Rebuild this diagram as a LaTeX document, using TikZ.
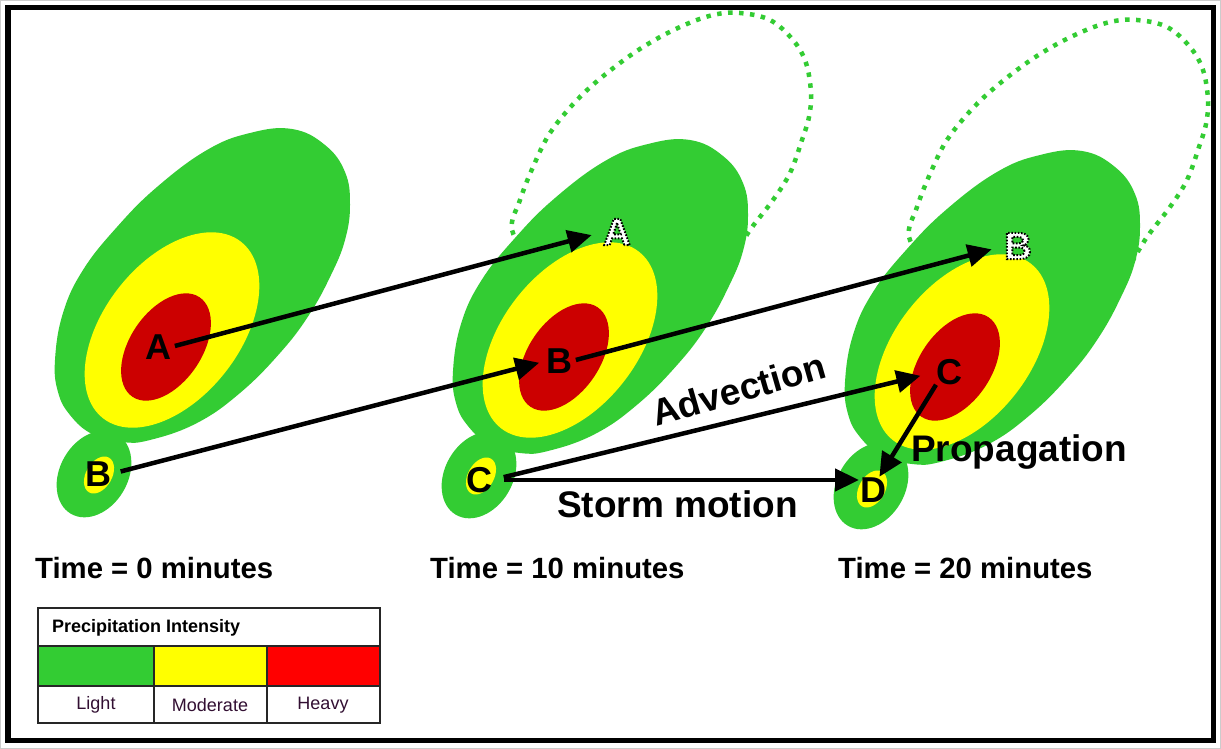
\documentclass[tikz,border=0pt]{standalone}
\usepackage{fontspec}
\setmainfont{Liberation Sans}
\usetikzlibrary{arrows.meta,calc}
\definecolor{grn}{RGB}{51,204,51}
\definecolor{yel}{RGB}{255,255,0}
\definecolor{drd}{RGB}{204,0,0}
\definecolor{lrd}{RGB}{255,0,0}
\definecolor{lgtxt}{RGB}{50,15,50}
\newcommand\outl[1]{\special{pdf:literal direct q 2 Tr 0 G 2 w [1.6 1.6] 0 d}#1\special{pdf:literal direct Q}}
\newcommand\greenegg[1]{\fill[grn, shift={#1}] plot[smooth cycle, tension=0.7] coordinates {(292,129) (325,145) (345,172) (350,205) (345,240) (331,275) (309,315) (280,353) (240,393) (197,423) (150,440) (122,442) (92,434) (70,415) (58,392) (55,360) (63,313) (83,270) (117,227) (157,187) (207,150) (250,133)};}
\newcommand\dotarc[1]{\draw[dotline, shift={#1}] plot[smooth, tension=0.6] coordinates {(532,262) (512,230) (520,200) (533,167) (550,133) (577,100) (607,73) (643,47) (680,27) (713,15) (740,13) (770,20) (793,40) (806,63) (811,93) (809,117) (802,140) (790,173) (773,200) (750,230) (735,255)};}
\tikzset{
  lbl/.style={font=\bfseries\fontsize{36}{36}\selectfont, inner sep=0pt, outer sep=0pt},
  ghost/.style={text=white, font=\bfseries\fontsize{38}{38}\selectfont},
  arr/.style={line width=4.5pt, -{Triangle[length=24pt,width=22pt]}},
  dotline/.style={draw=grn, line width=4.5pt, dash pattern=on 4.5pt off 6.5pt},
  big/.style={font=\bfseries\fontsize{37}{37}\selectfont, inner sep=0pt},
  tm/.style={font=\bfseries\fontsize{29.3}{29.3}\selectfont, inner sep=0pt},
  lgh/.style={font=\bfseries\fontsize{18}{18}\selectfont, inner sep=0pt},
  lgt/.style={font=\fontsize{18}{18}\selectfont, text=lgtxt, inner sep=0pt}
}
\begin{document}
\begin{tikzpicture}[x=1pt,y=-1pt]
\useasboundingbox (0,0) rectangle (1221,749);
\fill[white] (0,0) rectangle (1221,749);
\draw[black!20, line width=1pt] (0.5,0.5) rectangle (1220.5,748.5);
\draw[black, line width=5.5pt] (8,7.5) rectangle (1213.5,740.5);
% dotted outlines (behind)
\dotarc{(0,0)}
\dotarc{(397,7)}
% light precipitation
\greenegg{(0,0)}
\greenegg{(398,11)}
\greenegg{(790,22)}
\fill[grn, rotate around={60:(94,474)}] (94,474) ellipse [x radius=46pt, y radius=34pt];
\fill[grn, rotate around={60:(479,475)}] (479,475) ellipse [x radius=46pt, y radius=34pt];
\fill[grn, rotate around={60:(871,486)}] (871,486) ellipse [x radius=46pt, y radius=34pt];
% moderate
\fill[yel, rotate around={52:(172,330)}] (172,330) ellipse [x radius=112pt, y radius=68pt];
\fill[yel, rotate around={52:(570,340)}] (570,340) ellipse [x radius=112pt, y radius=68pt];
\fill[yel, rotate around={52:(962,352)}] (962,352) ellipse [x radius=112pt, y radius=68pt];
\fill[yel, rotate around={60:(99,475)}] (99,475) ellipse [x radius=20pt, y radius=13pt];
\fill[yel, rotate around={60:(481,476)}] (481,476) ellipse [x radius=20pt, y radius=13pt];
\fill[yel, rotate around={60:(872,489)}] (872,489) ellipse [x radius=20pt, y radius=13pt];
% heavy
\fill[drd, rotate around={56:(166,347)}] (166,347) ellipse [x radius=60pt, y radius=36pt];
\fill[drd, rotate around={56:(564,357)}] (564,357) ellipse [x radius=60pt, y radius=36pt];
\fill[drd, rotate around={56:(955,367)}] (955,367) ellipse [x radius=60pt, y radius=36pt];
% cell labels
\node[lbl] (A1) at (158,347) {A};
\node[lbl] (B1) at (98,474) {B};
\node[lbl,ghost] (A2) at (617,232) {\outl{A}};
\node[lbl] (B2) at (559,361) {B};
\node[lbl] (C2) at (479,480) {C};
\node[lbl,ghost] (B3) at (1018,246) {\outl{B}};
\node[lbl] (C3) at (949,372) {C};
\node[lbl] (D3) at (873,490) {D};
% arrows
\draw[arr, shorten <=4pt, shorten >=12pt] (A1.east) -- (A2.west);
\draw[arr, shorten <=10pt, shorten >=7pt] (B1.east) -- (B2.west);
\draw[arr, shorten <=4pt, shorten >=13pt] (B2.east) -- (B3.west);
\draw[arr, shorten <=12pt, shorten >=16pt] (C2.east) -- (C3.west);
\draw[arr, shorten <=12pt, shorten >=1pt] (C2.east) -- (C2.east -| D3.west);
\draw[arr, shorten >=1pt] (C3.south west) -- ($(D3.north)!0.45!(D3.north east)$);
% motion labels
\node[big, rotate=16, anchor=base] (adv) at (742,402) {Advection};
\node[big, anchor=base west] (prop) at (911,461) {Propagation};
\node[big, anchor=base west] (sm) at (557,517) {Storm motion};
% time labels
\node[tm, anchor=base west] (t0) at (35,578) {Time = 0 minutes};
\node[tm, anchor=base west] (t1) at (430,578) {Time = 10 minutes};
\node[tm, anchor=base west] (t2) at (838,578) {Time = 20 minutes};
% legend
\fill[grn] (38,646) rectangle (154,686);
\fill[yel] (154,646) rectangle (267,686);
\fill[lrd] (267,646) rectangle (380,686);
\draw[line width=1.3pt, black!85] (38,608) rectangle (380,723)
  (38,646) -- (380,646) (38,686) -- (380,686)
  (154,646) -- (154,723) (267,646) -- (267,723);
\node[lgh, anchor=west] (lh) at (52,628) {Precipitation Intensity};
\node[lgt] (l1) at (96,705) {Light};
\node[lgt] (l2) at (210,705) {Moderate};
\node[lgt] (l3) at (323,705) {Heavy};
\end{tikzpicture}
\end{document}
